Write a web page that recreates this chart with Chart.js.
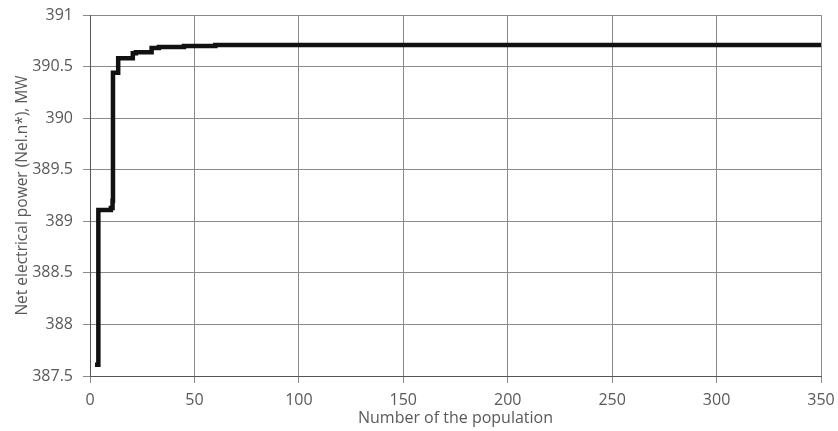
<!DOCTYPE html>
<html>
<head>
<meta charset="utf-8">
<script src="https://cdn.jsdelivr.net/npm/chart.js@4/dist/chart.umd.min.js"></script>
<style>
  html, body { margin: 0; padding: 0; background: #ffffff; }
  canvas { display: block; }
</style>
</head>
<body>
<canvas id="chart" width="838" height="431"></canvas>
<script>
// population number where the best value changes, and the value held from there
const population = [2.4, 4, 10, 10.8, 11, 13.5, 20.5, 22, 29.5, 33, 45, 60, 350]
const netPower = [387.61, 389.11, 389.13, 389.2, 390.44, 390.58, 390.63, 390.64, 390.68, 390.69, 390.70, 390.71, 390.71]

const xTicks = [0, 50, 100, 150, 200, 250, 300, 350]
const yTicks = [387.5, 388, 388.5, 389, 389.5, 390, 390.5, 391]

const xTitle = 'Number of the population'
const yTitle = 'Net electrical power (Nel.n*), MW'

const textColor = '#595959'
const gridColor = '#8a8a8a'
const family = '"Open Sans", "Liberation Sans", sans-serif'
const font = { family: family, size: 16 }

const points = population.map((x, i) => ({ x: x, y: netPower[i] }))

new Chart(document.getElementById('chart'), {
  type: 'line',
  data: {
    datasets: [{
      data: points,
      borderColor: '#111111',
      borderWidth: 4.5,
      pointRadius: 0,
      stepped: 'before',
      fill: false
    }]
  },
  options: {
    responsive: false,
    animation: false,
    devicePixelRatio: 1,
    layout: { padding: { top: 15, right: 17, left: 0, bottom: 0 } },
    plugins: { legend: { display: false }, tooltip: { enabled: false } },
    scales: {
      x: {
        type: 'linear',
        min: xTicks[0],
        max: xTicks[xTicks.length - 1],
        afterBuildTicks: s => { s.ticks = xTicks.map(v => ({ value: v })) },
        afterFit: s => { s.height = 55; s.paddingLeft = 0; s.paddingRight = 0 },
        grid: { color: gridColor, lineWidth: 1, tickLength: 7 },
        border: { color: '#555555', width: 1 },
        ticks: { color: textColor, font: font, padding: 8, maxRotation: 0, callback: v => String(v) },
        title: { display: true, text: xTitle, color: textColor, font: font, padding: { top: 0, bottom: 3 } }
      },
      y: {
        min: yTicks[0],
        max: yTicks[yTicks.length - 1],
        afterBuildTicks: s => { s.ticks = yTicks.map(v => ({ value: v })) },
        afterFit: s => { s.width = 90; s.paddingTop = 0; s.paddingBottom = 0 },
        grid: { color: gridColor, lineWidth: 1, tickLength: 7 },
        border: { color: '#555555', width: 1 },
        ticks: { color: textColor, font: font, padding: 10, callback: v => String(v) },
        title: { display: true, text: yTitle, color: textColor, font: { family: family, size: 15.5 }, padding: { top: 13, bottom: 0 } }
      }
    }
  }
})
</script>
</body>
</html>
